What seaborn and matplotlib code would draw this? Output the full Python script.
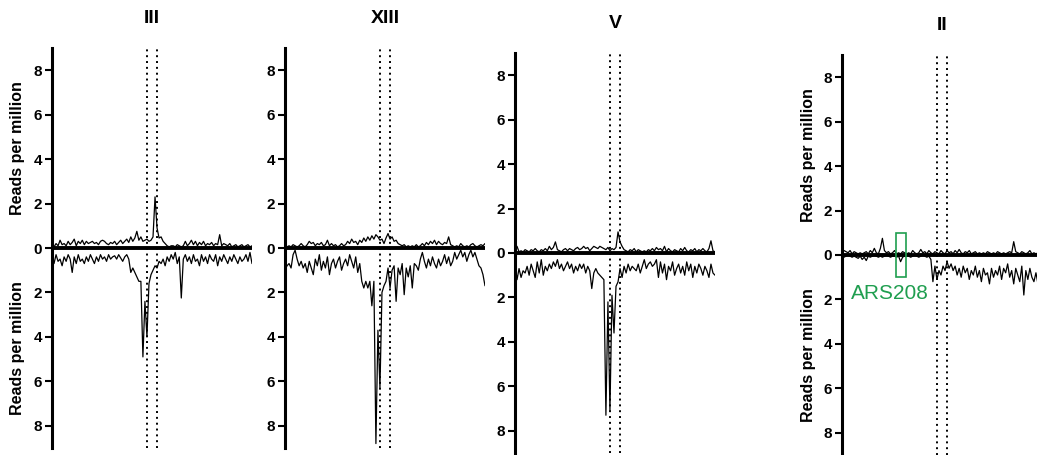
import numpy as np
import pandas as pd
import matplotlib
matplotlib.use("Agg")
import matplotlib.pyplot as plt
import seaborn as sns
from matplotlib.patches import Rectangle

# chromosome panels, left to right
chromosomes = ["III", "XIII", "V", "II"]

# reads per million in 100 bins, top strand (plotted up) and bottom strand (plotted down)
III_top = [0.1, 0.05, 0.2, 0.1, 0.35, 0.15, 0.2, 0.1, 0.3, 0.15,
           0.25, 0.4, 0.1, 0.3, 0.2, 0.35, 0.15, 0.3, 0.2, 0.25,
           0.3, 0.2, 0.25, 0.15, 0.3, 0.35, 0.3, 0.2, 0.15, 0.25,
           0.2, 0.3, 0.15, 0.25, 0.35, 0.2, 0.3, 0.4, 0.25, 0.5,
           0.3, 0.45, 0.75, 0.35, 0.5, 0.3, 0.35, 0.4, 0.3, 0.35,
           0.5, 2.3, 0.9, 0.45, 0.5, 0.3, 0.2, 0.1, 0.05, 0.1,
           0.1, 0.05, 0.15, 0.1, 0.05, 0.1, 0.3, 0.1, 0.2, 0.35,
           0.15, 0.3, 0.1, 0.25, 0.15, 0.3, 0.1, 0.2, 0.15, 0.25,
           0.1, 0.2, 0.15, 0.6, 0.1, 0.2, 0.15, 0.1, 0.2, 0.05,
           0.1, 0.15, 0.05, 0.1, 0.15, 0.05, 0.1, 0.15, 0.05, 0.1]
III_bottom = [0.4, 0.7, 0.3, 0.6, 0.5, 0.8, 0.4, 0.6, 0.3, 0.5,
              1.1, 0.4, 0.7, 0.3, 0.6, 0.5, 0.7, 0.4, 0.6, 0.3,
              0.5, 0.7, 0.4, 0.6, 0.3, 0.5, 0.4, 0.6, 0.3, 0.5,
              0.4, 0.35, 0.5, 0.3, 0.45, 0.6, 0.4, 0.3, 0.5, 1.1,
              0.9, 1.1, 1.3, 1.5, 1.5, 4.9, 2.4, 4.0, 1.6, 1.2,
              1.0, 0.8, 0.9, 0.6, 0.7, 0.5, 0.8, 0.4, 0.6, 0.3,
              0.5, 0.2, 0.7, 0.4, 2.25, 0.5, 0.3, 0.6, 0.4, 0.7,
              0.3, 0.6, 0.5, 0.8, 0.3, 0.6, 0.4, 0.7, 0.3, 0.5,
              0.6, 0.3, 0.8, 0.4, 0.6, 0.3, 0.5, 0.7, 0.4, 0.6,
              0.3, 0.5, 0.7, 0.4, 0.6, 0.5, 0.3, 0.6, 0.2, 0.7]

XIII_top = [0.1, 0.05, 0.1, 0.05, 0.15, 0.1, 0.05, 0.1, 0.2, 0.1,
            0.05, 0.15, 0.3, 0.2, 0.25, 0.1, 0.2, 0.15, 0.25, 0.1,
            0.15, 0.35, 0.1, 0.2, 0.1, 0.15, 0.05, 0.1, 0.2, 0.1,
            0.15, 0.3, 0.2, 0.4, 0.25, 0.3, 0.15, 0.35, 0.25, 0.45,
            0.3, 0.5, 0.35, 0.55, 0.4, 0.6, 0.5, 0.35, 0.4, 0.2,
            0.45, 0.65, 0.4, 0.5, 0.3, 0.35, 0.2, 0.15, 0.1, 0.15,
            0.05, 0.1, 0.05, 0.1, 0.05, 0.15, 0.05, 0.1, 0.2, 0.1,
            0.25, 0.15, 0.3, 0.2, 0.35, 0.15, 0.3, 0.2, 0.15, 0.25,
            0.2, 0.5, 0.15, 0.1, 0.05, 0.1, 0.05, 0.2, 0.1, 0.05,
            0.1, 0.05, 0.15, 0.2, 0.1, 0.05, 0.1, 0.15, 0.1, 0.2]
XIII_bottom = [1.0, 0.8, 0.7, 0.9, 0.3, 0.1, 0.5, 0.8, 0.6, 0.9,
               0.7, 1.1, 0.6, 0.9, 1.2, 0.5, 0.8, 0.3, 1.0, 0.6,
               0.9, 0.4, 1.2, 0.7, 0.5, 0.9, 0.6, 0.4, 1.0, 0.7,
               0.5, 0.8, 0.3, 0.6, 0.9, 0.4, 1.1, 0.7, 1.5, 1.8,
               1.5, 1.8, 1.5, 2.6, 1.5, 8.8, 3.7, 6.3, 2.0, 1.7,
               1.5, 0.9, 1.8, 1.0, 0.8, 2.4, 0.9, 1.2, 0.7, 2.1,
               0.9, 1.3, 0.8, 1.8, 0.7, 0.8, 1.0, 0.5, 0.2, 0.6,
               0.9, 0.5, 0.8, 0.4, 0.7, 0.9, 0.5, 0.8, 0.6, 0.3,
               0.7, 0.4, 0.8, 0.6, 0.2, 0.5, 0.3, 0.1, 0.4, 0.2,
               0.6, 0.3, 0.1, 0.4, 0.2, 0.5, 0.8, 0.9, 1.2, 1.7]

V_top = [0.1, 0.3, 0.05, 0.1, 0.05, 0.15, 0.1, 0.05, 0.15, 0.1,
         0.2, 0.1, 0.05, 0.15, 0.1, 0.2, 0.1, 0.3, 0.15, 0.25,
         0.5, 0.15, 0.1, 0.05, 0.15, 0.2, 0.1, 0.2, 0.15, 0.1,
         0.2, 0.25, 0.15, 0.2, 0.3, 0.2, 0.25, 0.1, 0.2, 0.3,
         0.25, 0.2, 0.3, 0.25, 0.2, 0.15, 0.25, 0.1, 0.2, 0.15,
         0.25, 0.95, 0.5, 0.3, 0.15, 0.1, 0.05, 0.15, 0.1, 0.2,
         0.05, 0.15, 0.1, 0.05, 0.1, 0.05, 0.15, 0.1, 0.2, 0.1,
         0.25, 0.15, 0.2, 0.1, 0.3, 0.05, 0.2, 0.1, 0.05, 0.15,
         0.1, 0.05, 0.2, 0.1, 0.25, 0.1, 0.05, 0.15, 0.1, 0.2,
         0.05, 0.15, 0.1, 0.2, 0.1, 0.05, 0.2, 0.55, 0.1, 0.05]
V_bottom = [0.5, 1.2, 0.7, 1.1, 0.8, 0.9, 0.6, 1.0, 0.5, 0.8,
            1.1, 0.4, 0.9, 0.3, 1.0, 0.6, 0.8, 0.5, 0.7, 0.4,
            0.6, 0.3, 0.7, 0.5, 0.8, 0.6, 0.4, 0.7, 0.5, 0.9,
            0.6, 0.8, 0.5, 0.7, 0.5, 0.9, 0.6, 0.8, 1.6, 0.9,
            0.7, 0.9, 1.0, 1.1, 1.2, 7.3, 2.2, 7.1, 1.9, 3.6,
            1.5, 1.3, 0.7, 1.1, 0.6, 0.9, 0.5, 0.8, 0.6, 0.7,
            0.8, 0.5, 0.9, 0.6, 0.3, 0.7, 0.5, 0.4, 0.6, 0.5,
            0.3, 1.1, 0.4, 0.9, 0.5, 1.2, 0.6, 0.8, 0.4, 1.0,
            0.7, 0.5, 0.9, 0.6, 1.0, 0.4, 0.8, 0.5, 1.1, 0.6,
            0.9, 0.5, 0.7, 1.0, 0.6, 0.8, 1.1, 0.5, 0.9, 1.0]

II_top = [0.1, 0.2, 0.15, 0.1, 0.2, 0.05, 0.15, 0.1, 0.05, 0.1,
          0.05, 0.1, 0.15, 0.05, 0.2, 0.1, 0.3, 0.1, 0.05, 0.3,
          0.75, 0.2, 0.1, 0.15, 0.05, 0.1, 0.2, 0.05, 0.1, 0.05,
          0.15, 0.1, 0.05, 0.1, 0.05, 0.2, 0.1, 0.05, 0.1, 0.25,
          0.1, 0.15, 0.05, 0.2, 0.1, 0.05, 0.15, 0.1, 0.05, 0.2,
          0.1, 0.05, 0.2, 0.1, 0.15, 0.05, 0.2, 0.1, 0.25, 0.1,
          0.05, 0.15, 0.1, 0.2, 0.05, 0.1, 0.15, 0.05, 0.1, 0.05,
          0.1, 0.05, 0.15, 0.1, 0.05, 0.1, 0.05, 0.15, 0.1, 0.05,
          0.1, 0.05, 0.1, 0.15, 0.1, 0.6, 0.15, 0.1, 0.05, 0.15,
          0.1, 0.05, 0.1, 0.2, 0.05, 0.1, 0.05, 0.1, 0.15, 0.05]
II_bottom = [0.05, 0.1, 0.05, 0.0, 0.05, 0.1, 0.05, 0.1, 0.15, 0.05,
             0.2, 0.1, 0.25, 0.05, 0.1, 0.05, 0.0, 0.05, 0.1, 0.05,
             0.1, 0.05, 0.0, 0.05, 0.1, 0.05, 0.05, 0.1, 0.05, 0.3,
             0.1, 0.05, 0.0, 0.05, 0.1, 0.05, 0.0, 0.05, 0.1, 0.05,
             0.0, 0.05, 0.1, 0.05, 0.2, 1.2, 0.5, 1.1, 0.7, 0.9,
             0.5, 0.7, 0.3, 0.6, 0.4, 0.7, 0.5, 0.9, 0.6, 1.0,
             0.5, 0.8, 0.6, 1.1, 0.7, 0.9, 0.5, 1.0, 0.7, 1.2,
             0.6, 0.9, 0.8, 1.3, 0.6, 1.0, 0.7, 0.9, 0.5, 1.1,
             0.6, 0.8, 0.4, 1.0, 0.7, 1.3, 0.6, 0.9, 1.2, 0.5,
             1.8, 0.7, 1.1, 0.6, 1.0, 1.2, 0.8, 1.3, 0.9, 1.0]

top_tracks = [III_top, XIII_top, V_top, II_top]
bottom_tracks = [III_bottom, XIII_bottom, V_bottom, II_bottom]
show_ylabel = [True, False, False, True]
tick_vals = [-8, -6, -4, -2, 0, 2, 4, 6, 8]
tick_text = ["8", "6", "4", "2", "0", "2", "4", "6", "8"]
centromere = [47, 52]          # dotted lines (bin positions)
ars208 = (26.7, 31.7, "ARS208")  # box on chromosome II

sns.set_style("white")
plt.rcParams['font.family'] = ['Liberation Sans', 'DejaVu Sans']
plt.rcParams['text.color'] = 'black'
plt.rcParams['ytick.color'] = 'black'
plt.rcParams['axes.labelcolor'] = 'black'

fig = plt.figure(figsize=(10.37, 4.55), dpi=100)
W, H = 1037, 455
# left px, top px of each panel's y axis
positions = [(52, 48), (285, 48), (515, 53), (842, 55)]

bins = np.arange(100)
for i, chrom in enumerate(chromosomes):
    lx, ty = positions[i]
    ax = fig.add_axes([lx / W, (H - ty - 400) / H, 200 / W, 400 / H])
    df = pd.DataFrame({"bin": bins,
                       "top": top_tracks[i],
                       "bottom": -np.array(bottom_tracks[i])})
    sns.lineplot(data=df, x="bin", y="top", ax=ax, color="black", lw=0.9)
    sns.lineplot(data=df, x="bin", y="bottom", ax=ax, color="black", lw=0.9)
    ax.axhline(0, color="black", lw=2.8, zorder=4)
    for c in centromere:
        ax.axvline(c, color="black", lw=1.4, ls=(0, (1, 2)), zorder=3)
    ax.set_xlim(0, 99)
    ax.set_ylim(-9, 9)
    ax.set_xlabel("")
    ax.set_ylabel("")
    ax.set_xticks([])
    ax.set_yticks(tick_vals)
    ax.set_yticklabels(tick_text, fontsize=11, fontweight="bold", color="black")
    ax.tick_params(axis="y", direction="out", length=5, width=1.5, pad=2, left=True,
                   color="black")
    for s in ["top", "right", "bottom"]:
        ax.spines[s].set_visible(False)
    ax.spines["left"].set_linewidth(2.2)
    ax.spines["left"].set_color("black")
    ax.text(0.5, 1.075, chrom, transform=ax.transAxes, ha="center", va="center",
            fontsize=14, fontweight="bold", color="black")
    if show_ylabel[i]:
        for yc in [4.5, -4.5]:
            ax.text(-0.17, yc, "Reads per million", transform=ax.get_yaxis_transform(),
                    rotation=90, ha="center", va="center", fontsize=11.5,
                    fontweight="bold", color="black")
    if chrom == "II":
        x0, x1, name = ars208
        ax.add_patch(Rectangle((x0, -1.0), x1 - x0, 2.0, fill=False,
                               edgecolor="#1f9e4f", lw=1.2, zorder=5))
        ax.text((x0 + x1) / 2 - 5.5, -1.75, name, ha="center", va="center",
                fontsize=15, color="#1f9e4f")

fig.savefig("out.png", dpi=100)
